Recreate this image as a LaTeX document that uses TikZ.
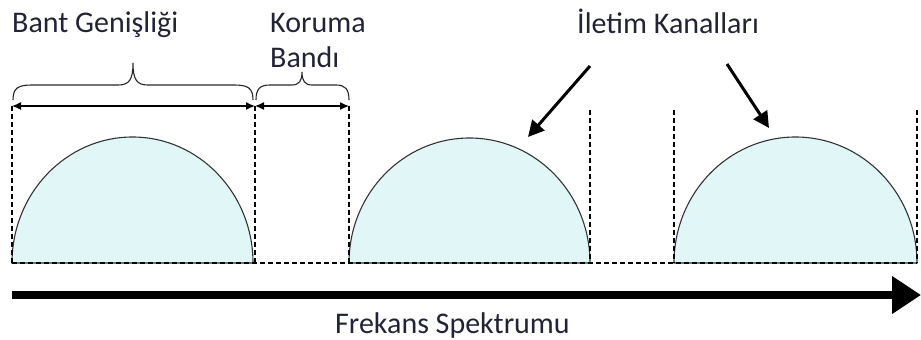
\documentclass[tikz,border=0pt]{standalone}
\usepackage{fontspec}
\setmainfont{Carlito}
\usetikzlibrary{arrows.meta}
\definecolor{bandfill}{RGB}{224,246,247}
\definecolor{txt}{RGB}{35,35,55}
\tikzset{
  lbl/.style={font=\fontsize{30}{36}\selectfont, text=txt, inner sep=0pt, anchor=base west},
  dsh/.style={dashed, dash pattern=on 5pt off 3pt, line width=1.3pt},
  band/.style={fill=bandfill, draw=black!80, line width=1.1pt},
  dimarrow/.style={{Latex[length=9pt,width=8pt]}-{Latex[length=9pt,width=8pt]}, line width=1.3pt},
  pointer/.style={-{Triangle[length=16pt,width=16pt]}, line width=3pt},
  brace/.style={line width=1.1pt, draw=black!85},
}
\begin{document}
\begin{tikzpicture}[x=1pt,y=-1pt]
\useasboundingbox (0,0) rectangle (921,340);
% coordinates
\coordinate (b0) at (12,263);
\coordinate (b1) at (917,263);
% channels
\draw[band] (12,263) arc[start angle=180,end angle=360,x radius=120.5,y radius=126] -- cycle;
\draw[band] (349,263) arc[start angle=180,end angle=360,x radius=120.5,y radius=125] -- cycle;
\draw[band] (674,263) arc[start angle=180,end angle=360,x radius=121.5,y radius=126] -- cycle;
% dashed baseline
\draw[dsh] (b0) -- (b1);
% vertical dashed
\coordinate (v1t) at (12,106); \coordinate (v1b) at (12,263);
\coordinate (v2t) at (255,106); \coordinate (v2b) at (255,263);
\coordinate (v3t) at (349,106); \coordinate (v3b) at (349,263);
\coordinate (v4t) at (590,110); \coordinate (v4b) at (590,263);
\coordinate (v5t) at (674,110); \coordinate (v5b) at (674,263);
\coordinate (v6t) at (917,110); \coordinate (v6b) at (917,263);
\foreach \i in {1,...,6}{\draw[dsh] (v\i t) -- (v\i b);}
% dimension arrows
\draw[dimarrow] (v1t) -- (v2t);
\draw[dimarrow] (v2t) -- (v3t);
% braces
\draw[brace] (13,100) .. controls (13,88) and (18,85) .. (32,85) -- (118,85)
  .. controls (129,85) and (133,80) .. (133,63)
  .. controls (133,80) and (137,85) .. (148,85) -- (234,85)
  .. controls (248,85) and (253,88) .. (253,100);
\draw[brace] (256,100) .. controls (256,89) and (260,85) .. (270,85) -- (292,85)
  .. controls (299,85) and (302,81) .. (302,72)
  .. controls (302,81) and (305,85) .. (312,85) -- (336,85)
  .. controls (345,85) and (349,89) .. (349,100);
% labels
\node[lbl] (bw) at (12,32) {Bant Genişliği};
\node[lbl] (kb1) at (270,32) {Koruma};
\node[lbl] (kb2) at (270,67) {Bandı};
\node[lbl] (ik) at (577,33) {İletim Kanalları};
\node[lbl] (fs) at (335,333) {Frekans Spektrumu};
% pointers
\coordinate (p1s) at (590,66); \coordinate (p1e) at (528,137);
\coordinate (p2s) at (727,64); \coordinate (p2e) at (769,128);
\draw[pointer] (p1s) -- (p1e);
\draw[pointer] (p2s) -- (p2e);
% axis
\coordinate (a0) at (12,295); \coordinate (a1) at (921,295);
\draw[line width=8pt, -{Triangle[length=29pt,width=36pt]}] (a0) -- (a1);
\end{tikzpicture}
\end{document}
